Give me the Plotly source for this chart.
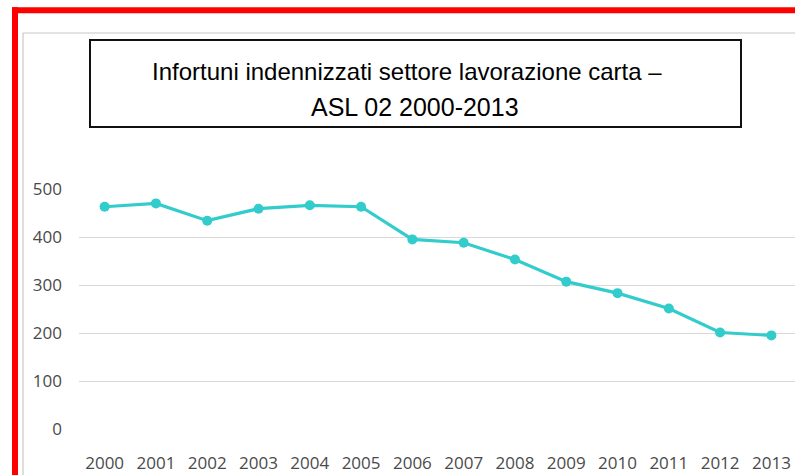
import plotly.graph_objects as go

years = ["2000", "2001", "2002", "2003", "2004", "2005", "2006",
         "2007", "2008", "2009", "2010", "2011", "2012", "2013"]
infortuni = [463, 470, 434, 459, 466, 463, 395, 388, 353, 307, 283, 251, 201, 195]
y_ticks = [0, 100, 200, 300, 400, 500]
title_line1 = "Infortuni indennizzati settore lavorazione carta –"
title_line2 = "ASL 02 2000-2013"

W, H = 795, 475
L, R_EDGE, T, B = 79, 795, 189, 429

def px(x):
    return (x - L) / (R_EDGE - L)

def py(y):
    return (B - y) / (B - T)

fig = go.Figure()
fig.add_trace(go.Scatter(
    x=list(range(len(years))), y=infortuni, mode="lines+markers",
    line=dict(color="#33CCCC", width=3.2),
    marker=dict(color="#33CCCC", size=10),
    hoverinfo="skip", showlegend=False,
))

shapes = [
    # grey chart-area border
    dict(type="line", xref="paper", yref="paper", x0=px(23), x1=px(900), y0=py(33), y1=py(33),
         line=dict(color="#C8C8C8", width=1.2)),
    dict(type="line", xref="paper", yref="paper", x0=px(23), x1=px(23), y0=py(33), y1=py(600),
         line=dict(color="#C8C8C8", width=1.2)),
    # red frame
    dict(type="line", xref="paper", yref="paper", x0=px(12), x1=px(900), y0=py(10.3), y1=py(10.3),
         line=dict(color="#FF0000", width=6)),
    dict(type="line", xref="paper", yref="paper", x0=px(15), x1=px(15), y0=py(7.3), y1=py(600),
         line=dict(color="#FF0000", width=6)),
    # title box
    dict(type="rect", xref="paper", yref="paper", x0=px(90), x1=px(741), y0=py(40), y1=py(127),
         line=dict(color="#111111", width=2), fillcolor="white"),
]

annotations = [
    dict(text=title_line1, xref="paper", yref="paper", x=px(407), y=py(71), showarrow=False,
         xanchor="center", yanchor="middle",
         font=dict(family="Liberation Sans, Arial", size=24, color="#000000")),
    dict(text=title_line2, xref="paper", yref="paper", x=px(415), y=py(107), showarrow=False,
         xanchor="center", yanchor="middle",
         font=dict(family="Liberation Sans, Arial", size=25, color="#000000")),
]

fig.update_layout(
    width=W, height=H,
    margin=dict(l=L, r=W - R_EDGE, t=T, b=H - B, pad=0),
    paper_bgcolor="white", plot_bgcolor="white",
    shapes=shapes, annotations=annotations,
    xaxis=dict(
        range=[-0.5, 13.46], tickmode="array", tickvals=list(range(len(years))), ticktext=years,
        showgrid=False, zeroline=False, showline=False, ticks="",
        ticklabelstandoff=22,
        tickfont=dict(family="Open Sans", size=17, color="#4A4A4A"),
    ),
    yaxis=dict(
        range=[0, 500], tickvals=y_ticks, showgrid=True, gridcolor="#D9D9D9", gridwidth=1.2,
        zeroline=False, showline=False, ticks="", ticklabelstandoff=16,
        tickfont=dict(family="Open Sans", size=17, color="#4A4A4A"),
    ),
)

fig.write_html(
    "out.html",
    config={"displayModeBar": False},
    post_script="document.body.style.margin='0';document.body.style.overflow='hidden';",
)
